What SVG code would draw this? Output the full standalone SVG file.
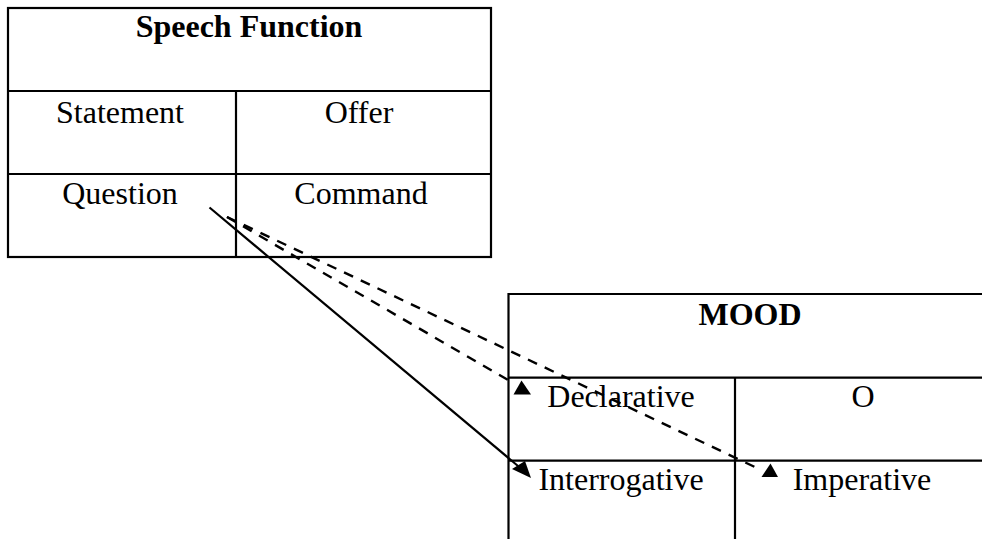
<svg xmlns="http://www.w3.org/2000/svg" width="982" height="539" viewBox="0 0 982 539">
<style>
.bg{fill:#ffffff}
.grid{fill:none;stroke:#000;stroke-width:2.2}
.t{font-family:"Liberation Serif","Times New Roman",serif;font-size:32px;fill:#000;text-anchor:middle}
.b{font-weight:bold}
.solid{stroke:#000;stroke-width:2.2;fill:none}
.dash{stroke:#000;stroke-width:2.4;fill:none;stroke-dasharray:10 8.5}
.head{fill:#000;stroke:none}
</style>
<rect class="bg" x="0" y="0" width="982" height="539"/>
<g id="speech-function">
<rect class="grid" x="8" y="8" width="483" height="249"/>
<line class="grid" x1="8" y1="91" x2="491" y2="91"/>
<line class="grid" x1="8" y1="174" x2="491" y2="174"/>
<line class="grid" x1="236" y1="91" x2="236" y2="257"/>
<text class="t b" x="249" y="37">Speech Function</text>
<text class="t" x="120" y="123">Statement</text>
<text class="t" x="359" y="123">Offer</text>
<text class="t" x="120" y="204">Question</text>
<text class="t" x="361" y="204">Command</text>
</g>
<g id="mood">
<path class="grid" d="M508.5,540 V294 H983"/>
<line class="grid" x1="508.5" y1="377.7" x2="983" y2="377.7"/>
<line class="grid" x1="508.5" y1="460.7" x2="983" y2="460.7"/>
<line class="grid" x1="735" y1="377.7" x2="735" y2="540"/>
<text class="t b" x="750" y="325">MOOD</text>
<text class="t" x="621" y="407">Declarative</text>
<text class="t" x="863" y="407">O</text>
<text class="t" x="621" y="490">Interrogative</text>
<text class="t" x="862" y="490">Imperative</text>
</g>
<g id="connectors">
<line class="solid" x1="209.5" y1="207.5" x2="518" y2="466"/>
<polygon class="head" points="531,478 512,469 525,461"/>
<line class="dash" x1="227" y1="217" x2="508" y2="380"/>
<polygon class="head" points="521.5,380.5 513.5,394.5 531,394.5"/>
<line class="dash" x1="227" y1="217" x2="757" y2="468"/>
<polygon class="head" points="770.5,463.5 761.5,477 778,477"/>
</g>
</svg>
